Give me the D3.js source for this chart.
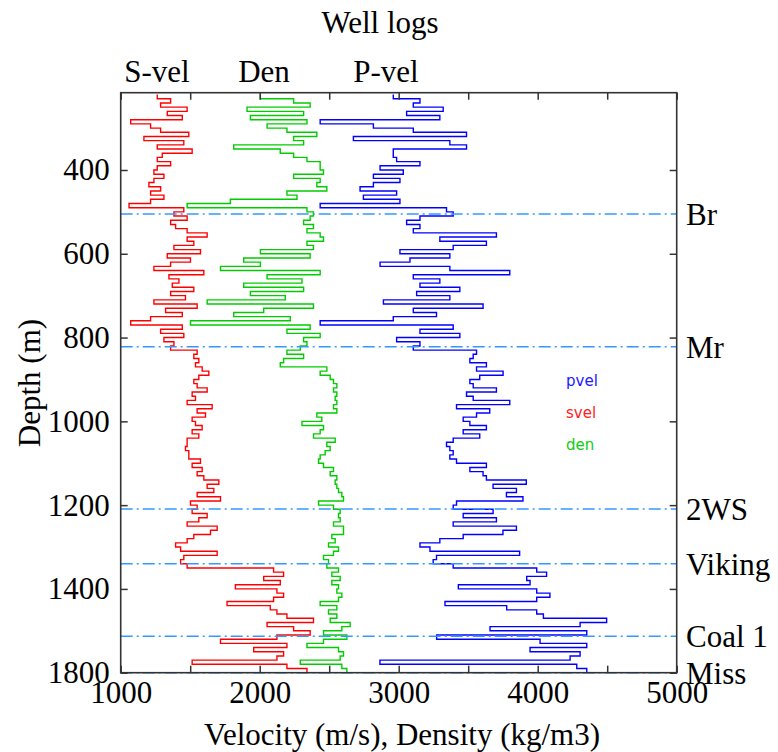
<!DOCTYPE html>
<html>
<head>
<meta charset="utf-8">
<script src="https://cdn.jsdelivr.net/npm/d3@7"></script>
<style>
  body { margin: 0; background: #fff; }
  text { font-family: "Liberation Serif", "Times New Roman", serif; }
</style>
</head>
<body>
<svg></svg>
<script>
// depth samples (m), every 10 m
var depths = d3.range(220, 1601, 10);

// S-wave velocity (m/s)
var sVel = [
  1263,1359,1287,1478,1335,1443,1072,1215,1287,1490,1167,1454,1263,1514,1299,1263,1359,1263,1239,1311,
  1239,1203,1287,1215,1311,1215,1060,1454,1383,1478,1359,1395,1478,1622,1478,
  1526,1383,1574,1335,1502,1359,1239,1598,1347,1419,1371,1526,1359,1466,1239,1550,1323,1443,1215,1072,
  1443,1287,1454,1311,1383,1359,1550,1526,1562,1538,1586,1634,1562,1526,1550,
  1622,1514,1538,1478,1658,1550,1610,1514,1538,1586,1514,1562,1478,1478,1466,1490,1490,1574,1514,1586,
  1550,1598,1706,1622,1670,1550,1718,1502,1550,1514,1622,1562,1478,1694,
  1646,1526,1478,1395,1431,1694,1454,1431,1478,2100,2172,2029,2148,1825,2124,2172,2100,1765,2076,2124,
  2196,2387,2053,2244,2363,2124,1718,2196,1957,2172,2124,1514,2196,2340,2196
];

// density (kg/m3)
var den = [
  2005,2244,2363,1909,2316,1933,2340,2053,2196,2411,2244,2316,1813,2148,2244,2340,2435,2435,2459,2244,
  2435,2411,2483,2196,2268,1789,1478,2340,2387,2363,2316,2387,2340,2435,2459,
  2340,2387,2005,2363,1885,2005,1718,2435,2053,2304,1885,2316,1933,2184,1622,2387,2029,1813,2220,1502,
  2363,2196,2435,2316,2340,2292,2196,2316,2172,2148,2483,2435,2507,2531,2555,
  2531,2555,2543,2555,2531,2555,2411,2447,2304,2459,2435,2387,2543,2483,2507,2471,2435,2423,2459,2531,
  2507,2555,2543,2555,2567,2591,2603,2423,2531,2579,2567,2579,2531,2603,
  2603,2519,2543,2495,2567,2531,2459,2495,2483,2567,2519,2579,2519,2567,2555,2591,2567,2435,2555,2495,
  2555,2507,2651,2591,2459,2627,2459,2340,2567,2603,2579,2292,2591,2627,2651
];

// P-wave velocity (m/s)
var pVel = [
  2961,3153,3105,3320,3057,3296,2435,2818,3105,3488,2674,3368,3488,2961,2961,2985,3153,2866,3033,2818,
  3009,2818,2722,2985,2746,3009,2435,3344,3392,3153,3057,3153,3105,3703,3296,
  3631,3392,3009,3368,3081,2866,3368,3799,3105,3296,3153,3440,3129,3368,2890,3607,3105,3272,2961,2435,
  3392,3153,3440,2985,3153,3105,3560,3536,3512,3631,3560,3751,3583,3512,3536,
  3703,3488,3536,3799,3416,3655,3560,3464,3512,3631,3464,3583,3392,3344,3368,3392,3368,3416,3631,3512,
  3607,3631,3918,3679,3847,3775,3894,3416,3392,3679,3464,3703,3392,3847,
  3750,3464,3296,3153,3225,3870,3272,3248,3392,3993,4064,3921,3945,3429,3993,4088,3993,3333,3777,3993,
  4041,4496,4305,3657,4353,3273,4017,4353,3945,4305,4233,2865,4281,4353,4544
];

// horizontes
var horizonNames = ["Br", "Mr", "2WS", "Viking", "Coal 1", "Miss"];
var horizonDepths = [505, 822, 1209, 1340, 1513, 1600];

// ticks
var yTicks = [400, 600, 800, 1000, 1200, 1400, 1600];
var yTickLabels = ["400", "600", "800", "1000", "1200", "1400", "1800"];
var xTicks = [1000, 1500, 2000, 2500, 3000, 3500, 4000, 4500, 5000];
var xTickLabels = ["1000", "", "2000", "", "3000", "", "4000", "", "5000"];

var logNames = ["S-vel", "Den", "P-vel"];
var legendNames = ["pvel", "svel", "den"];

var width = 778, height = 752;
var plotL = 120.7, plotR = 676.7, plotT = 92.7, plotB = 672.7;
var axisColor = "#333";

var svg = d3.select("svg")
  .attr("width", width)
  .attr("height", height);

var x = d3.scaleLinear().domain([1000, 5000]).range([plotL, plotR]);
var y = d3.scaleLinear().domain([215.5, 1600]).range([plotT, plotB]);

svg.append("defs").append("clipPath").attr("id", "plot")
  .append("rect")
  .attr("x", plotL).attr("y", plotT)
  .attr("width", plotR - plotL).attr("height", plotB - plotT);

// curvas
var line = d3.line()
  .x(function(d) { return x(d[1]); })
  .y(function(d) { return y(d[0]); })
  .curve(d3.curveStepBefore);

var logs = [
  {values: sVel, color: "#ff0000"},
  {values: den, color: "#00cc00"},
  {values: pVel, color: "#0000ff"}
];

svg.append("g").attr("clip-path", "url(#plot)")
  .selectAll("path")
  .data(logs)
  .enter()
  .append("path")
  .attr("d", function(l) { return line(depths.map(function(d, i) { return [d, l.values[i]]; })); })
  .attr("fill", "none")
  .attr("stroke", function(l) { return l.color; })
  .attr("stroke-width", 1.4);

// lineas de horizontes
svg.append("g")
  .selectAll("line")
  .data(horizonDepths)
  .enter()
  .append("line")
  .attr("x1", plotL).attr("x2", plotR)
  .attr("y1", function(d) { return y(d); })
  .attr("y2", function(d) { return y(d); })
  .attr("stroke", "#3399ff")
  .attr("stroke-width", 1.5)
  .attr("stroke-dasharray", "12,4,2,4");

// ejes
function styleAxis(g) {
  g.select(".domain").remove();
  g.selectAll(".tick line").attr("stroke", axisColor).attr("stroke-width", 1.5);
  g.selectAll(".tick text")
    .attr("fill", "#000")
    .style("font-size", "31px")
    .style("font-family", "'Liberation Serif', 'Times New Roman', serif");
}

svg.append("g")
  .attr("transform", "translate(" + plotL + ",0)")
  .call(d3.axisLeft(y).tickValues(yTicks).tickSize(-7).tickPadding(11)
    .tickFormat(function(d, i) { return yTickLabels[i]; }))
  .call(styleAxis);

svg.append("g")
  .attr("transform", "translate(" + plotR + ",0)")
  .call(d3.axisRight(y).tickValues(yTicks).tickSize(-7).tickFormat(""))
  .call(styleAxis);

svg.append("g")
  .attr("transform", "translate(0," + plotB + ")")
  .call(d3.axisBottom(x).tickValues(xTicks).tickSize(-7).tickPadding(8)
    .tickFormat(function(d, i) { return xTickLabels[i]; }))
  .call(styleAxis);

svg.append("g")
  .attr("transform", "translate(0," + plotT + ")")
  .call(d3.axisTop(x).tickValues(xTicks).tickSize(-7).tickFormat(""))
  .call(styleAxis);

svg.append("rect")
  .attr("x", plotL).attr("y", plotT)
  .attr("width", plotR - plotL).attr("height", plotB - plotT)
  .attr("fill", "none")
  .attr("stroke", axisColor)
  .attr("stroke-width", 1.6);

// nombres de horizontes
svg.append("g")
  .selectAll("text")
  .data(horizonNames)
  .enter()
  .append("text")
  .attr("x", 686)
  .attr("y", function(d, i) { return y(horizonDepths[i]) + 11; })
  .attr("font-size", 31)
  .text(function(d) { return d; });

// titulos
svg.append("text")
  .attr("x", 380).attr("y", 33)
  .attr("text-anchor", "middle")
  .attr("font-size", 31)
  .text("Well logs");

svg.append("g")
  .selectAll("text")
  .data(logNames)
  .enter()
  .append("text")
  .attr("x", function(d, i) { return [157, 264, 386][i]; })
  .attr("y", 82)
  .attr("text-anchor", "middle")
  .attr("font-size", 31)
  .text(function(d) { return d; });

svg.append("text")
  .attr("x", 402).attr("y", 745)
  .attr("text-anchor", "middle")
  .attr("font-size", 31)
  .text("Velocity (m/s), Density (kg/m3)");

svg.append("text")
  .attr("transform", "translate(40,383) rotate(-90)")
  .attr("text-anchor", "middle")
  .attr("font-size", 31)
  .text("Depth (m)");

// leyenda
svg.append("g")
  .selectAll("text")
  .data(legendNames)
  .enter()
  .append("text")
  .attr("x", 566)
  .attr("y", function(d, i) { return 386 + i * 32; })
  .attr("fill", function(d, i) { return ["#2020ff", "#ff2020", "#10cc10"][i]; })
  .style("font-family", "'DejaVu Sans', sans-serif")
  .style("font-size", "15px")
  .text(function(d) { return d; });
</script>
</body>
</html>
